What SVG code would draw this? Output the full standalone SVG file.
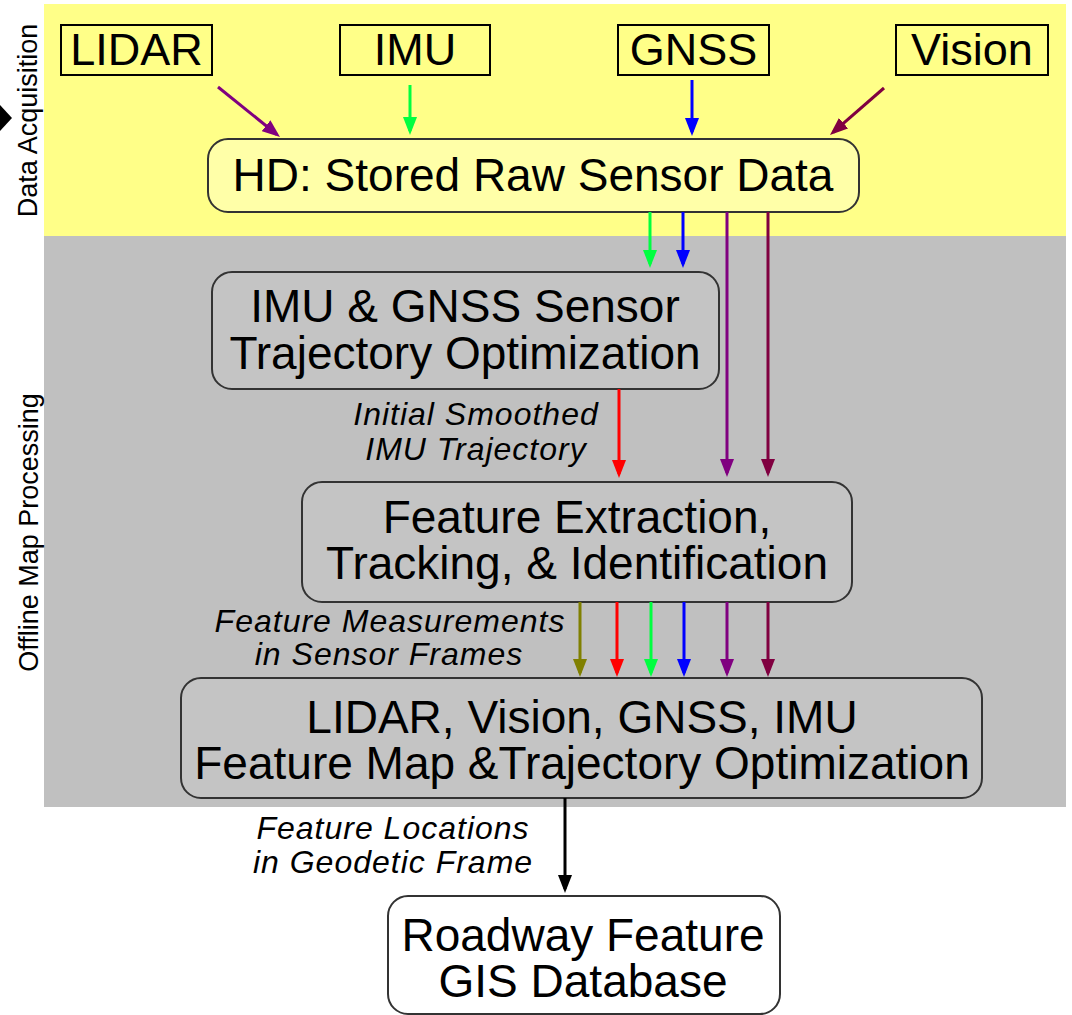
<svg xmlns="http://www.w3.org/2000/svg" width="1072" height="1015" viewBox="0 0 1072 1015">
<defs>
<style>
text{font-family:"Liberation Sans",Arial,sans-serif;fill:#000}
.big{font-size:46px;text-anchor:middle}
.sen{font-size:45px;text-anchor:middle}
.lab{font-size:32px;font-style:italic;text-anchor:middle;letter-spacing:1px}
.side{font-size:27px;text-anchor:middle}
.sbox{fill:none;stroke:#000;stroke-width:2}
.rbox{stroke:#333;stroke-width:2}
.c{fill:none;stroke-width:3}
</style>
<marker id="mPurple" markerUnits="userSpaceOnUse" markerWidth="18" markerHeight="14" refX="14" refY="7" orient="auto"><path d="M0,0L18,7L0,14z" fill="#800080"/></marker>
<marker id="mMaroon" markerUnits="userSpaceOnUse" markerWidth="18" markerHeight="14" refX="14" refY="7" orient="auto"><path d="M0,0L18,7L0,14z" fill="#800040"/></marker>
<marker id="mGreen" markerUnits="userSpaceOnUse" markerWidth="18" markerHeight="14" refX="14" refY="7" orient="auto"><path d="M0,0L18,7L0,14z" fill="#00ff40"/></marker>
<marker id="mBlue" markerUnits="userSpaceOnUse" markerWidth="18" markerHeight="14" refX="14" refY="7" orient="auto"><path d="M0,0L18,7L0,14z" fill="#0000ff"/></marker>
<marker id="mRed" markerUnits="userSpaceOnUse" markerWidth="18" markerHeight="14" refX="14" refY="7" orient="auto"><path d="M0,0L18,7L0,14z" fill="#ff0000"/></marker>
<marker id="mOlive" markerUnits="userSpaceOnUse" markerWidth="18" markerHeight="14" refX="14" refY="7" orient="auto"><path d="M0,0L18,7L0,14z" fill="#808000"/></marker>
<marker id="mBlack" markerUnits="userSpaceOnUse" markerWidth="18" markerHeight="14" refX="14" refY="7" orient="auto"><path d="M0,0L18,7L0,14z" fill="#000"/></marker>
</defs>
<rect width="1072" height="1015" fill="#fff"/>
<g id="bands">
<rect x="44" y="4" width="1022" height="232" fill="#ffff88"/>
<rect x="44" y="236" width="1022" height="571" fill="#c0c0c0"/>
<polygon points="-12,118 0,105 12,118 0,131" fill="#000"/>
<text class="side" transform="translate(37,120.5) rotate(-90)">Data Acquisition</text>
<text class="side" transform="translate(37.5,532.5) rotate(-90)">Offline Map Processing</text>
</g>
<g id="lidar"><rect class="sbox" x="61" y="25" width="151" height="50"/><text class="sen" x="136.5" y="65">LIDAR</text></g>
<g id="imu"><rect class="sbox" x="340" y="25" width="150" height="50"/><text class="sen" x="415" y="65">IMU</text></g>
<g id="gnss"><rect class="sbox" x="618" y="25" width="151" height="50"/><text class="sen" x="693.5" y="65">GNSS</text></g>
<g id="vision"><rect class="sbox" x="896" y="25" width="152" height="50"/><text class="sen" x="972" y="65">Vision</text></g>
<g id="hd"><rect class="rbox" x="208" y="139" width="651" height="73" rx="20" fill="#ffffa8"/><text class="big" x="533" y="191">HD: Stored Raw Sensor Data</text></g>
<g id="imugnss"><rect class="rbox" x="212" y="272" width="507" height="117" rx="20" fill="#c4c4c4"/><text class="big" x="465" y="322">IMU &amp; GNSS Sensor</text><text class="big" x="465" y="369">Trajectory Optimization</text></g>
<g id="feature"><rect class="rbox" x="302" y="482" width="550" height="120" rx="20" fill="#c4c4c4"/><text class="big" x="577" y="533">Feature Extraction,</text><text class="big" x="577" y="579">Tracking, &amp; Identification</text></g>
<g id="fusion"><rect class="rbox" x="181" y="678" width="801" height="120" rx="20" fill="#c4c4c4"/><text class="big" x="582" y="733">LIDAR, Vision, GNSS, IMU</text><text class="big" x="582" y="779">Feature Map &amp;Trajectory Optimization</text></g>
<g id="gis"><rect class="rbox" x="388" y="896" width="392" height="118" rx="20" fill="#fff"/><text class="big" x="583" y="951">Roadway Feature</text><text class="big" x="583" y="997">GIS Database</text></g>
<g id="labels">
<text class="lab" x="476" y="425">Initial Smoothed</text>
<text class="lab" x="476" y="460">IMU Trajectory</text>
<text class="lab" x="390" y="632">Feature Measurements</text>
<text class="lab" x="389" y="665">in Sensor Frames</text>
<text class="lab" x="393" y="839">Feature Locations</text>
<text class="lab" x="393" y="873">in Geodetic Frame</text>
</g>
<g id="connectors">
<line class="c" stroke="#800080" x1="218" y1="87" x2="276.9" y2="134.5" marker-end="url(#mPurple)"/>
<line class="c" stroke="#00ff40" x1="410" y1="85" x2="410" y2="131" marker-end="url(#mGreen)"/>
<line class="c" stroke="#0000ff" x1="692" y1="80" x2="692" y2="132" marker-end="url(#mBlue)"/>
<line class="c" stroke="#800040" x1="884" y1="88" x2="833" y2="132.4" marker-end="url(#mMaroon)"/>
<line class="c" stroke="#00ff40" x1="650" y1="212" x2="650" y2="264" marker-end="url(#mGreen)"/>
<line class="c" stroke="#0000ff" x1="683" y1="212" x2="683" y2="264" marker-end="url(#mBlue)"/>
<line class="c" stroke="#800080" x1="727" y1="212" x2="727" y2="473" marker-end="url(#mPurple)"/>
<line class="c" stroke="#800040" x1="768" y1="212" x2="768" y2="473" marker-end="url(#mMaroon)"/>
<line class="c" stroke="#ff0000" x1="619" y1="389" x2="619" y2="474" marker-end="url(#mRed)"/>
<line class="c" stroke="#808000" x1="580" y1="602" x2="580" y2="673" marker-end="url(#mOlive)"/>
<line class="c" stroke="#ff0000" x1="617" y1="602" x2="617" y2="673" marker-end="url(#mRed)"/>
<line class="c" stroke="#00ff40" x1="651" y1="602" x2="651" y2="673" marker-end="url(#mGreen)"/>
<line class="c" stroke="#0000ff" x1="684" y1="602" x2="684" y2="673" marker-end="url(#mBlue)"/>
<line class="c" stroke="#800080" x1="727" y1="602" x2="727" y2="673" marker-end="url(#mPurple)"/>
<line class="c" stroke="#800040" x1="768" y1="602" x2="768" y2="673" marker-end="url(#mMaroon)"/>
<line class="c" stroke="#000" x1="565" y1="798" x2="565" y2="889" marker-end="url(#mBlack)"/>
</g>
</svg>
